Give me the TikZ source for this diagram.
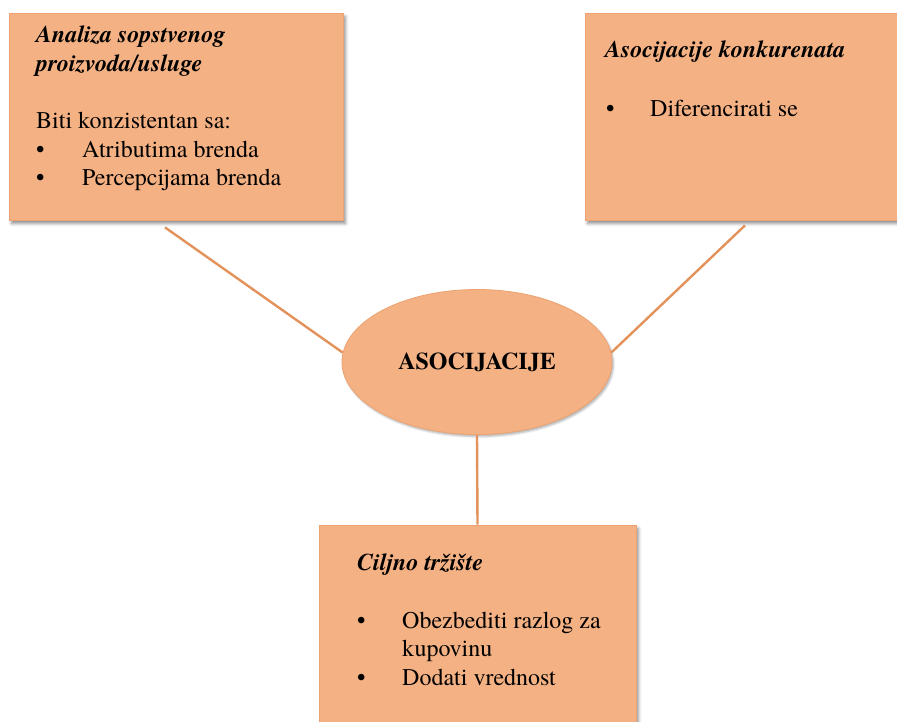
\documentclass[tikz,border=0pt]{standalone}
\usepackage{fontspec}
\IfFontExistsTF{TeX Gyre Termes}
  {\setmainfont{TeX Gyre Termes}}
  {\setmainfont{Liberation Serif}}
\usetikzlibrary{shapes.geometric,shadows.blur}

\definecolor{boxfill}{HTML}{F4B183}
\definecolor{boxedge}{HTML}{EDA371}
\definecolor{linkcol}{HTML}{E2925A}

\tikzset{
  infobox/.style={rectangle, draw=boxedge, line width=0.8pt, fill=boxfill,
    inner sep=0pt,
    blur shadow={shadow xshift=2.5pt, shadow yshift=-3.5pt,
      shadow blur radius=3pt, shadow opacity=45}},
  hub/.style={ellipse, draw=boxedge, line width=0.8pt, fill=boxfill,
    inner sep=0pt, minimum width=270pt, minimum height=145pt,
    font=\fontsize{24}{28.5}\selectfont\bfseries,
    blur shadow={shadow xshift=1.5pt, shadow yshift=-2pt,
      shadow blur radius=2pt, shadow opacity=30}},
  link/.style={draw=linkcol, line width=2.4pt},
  txt/.style={anchor=base west, inner sep=0pt,
    font=\fontsize{24}{28.5}\selectfont},
  head/.style={txt, font=\fontsize{24}{28.5}\selectfont\bfseries\itshape},
}
\newcommand{\bul}[1]{\makebox[#1][l]{\textbullet}}

\begin{document}
\begin{tikzpicture}[x=1pt,y=-1pt]
\useasboundingbox (0,0) rectangle (897,722);

% central ellipse
\node[hub] (ell) at (477,362) {ASOCIJACIJE};

% three surrounding boxes
\node[infobox, minimum width=334pt, minimum height=207pt] (box1) at (176,116.5) {};
\node[infobox, minimum width=316pt, minimum height=207pt] (box2) at (743,116.5) {};
\node[infobox, minimum width=317pt, minimum height=202pt] (box3) at (477.5,626) {};

% connectors from each box to the ellipse
\coordinate (b1foot) at ([xshift=-11pt,yshift=-7pt]box1.south);
\coordinate (b2foot) at ([xshift=2pt,yshift=-5pt]box2.south);
\draw[link] (b1foot) -- (ell.176);
\draw[link] (b2foot) -- (ell.4);
\draw[link] (ell.south) -- (box3.north);

% box 1 text
\node[head] (t11) at (36,43) {Analiza sopstvenog};
\node[head] (t12) at (36,71.5) {proizvoda/usluge};
\node[txt]  (t13) at (36,129) {Biti konzistentan sa:};
\node[txt]  (t14) at (36,157.5) {\bul{46pt}Atributima brenda};
\node[txt]  (t15) at (36,186) {\bul{46pt}Percepcijama brenda};

% box 2 text
\node[head] (t21) at (605,58) {Asocijacije konkurenata};
\node[txt]  (t22) at (606,116.5) {\bul{44pt}Diferencirati se};

% box 3 text
\node[head] (t31) at (357,570) {Ciljno tržište};
\node[txt]  (t32) at (357,628) {\bul{45pt}Obezbediti razlog za};
\node[txt]  (t33) at (402,656.5) {kupovinu};
\node[txt]  (t34) at (357,685) {\bul{45pt}Dodati vrednost};
\end{tikzpicture}
\end{document}
